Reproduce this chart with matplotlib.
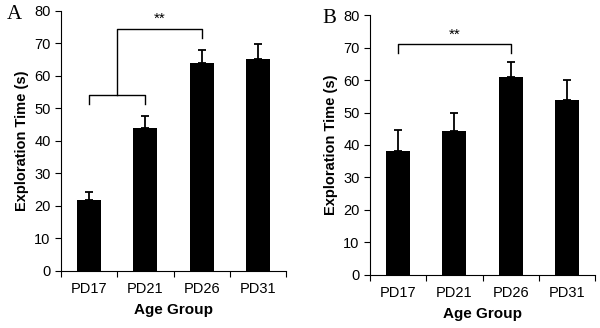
import numpy as np
import matplotlib.pyplot as plt

plt.rcParams['font.family'] = ['Liberation Sans', 'DejaVu Sans']

groups = ['PD17', 'PD21', 'PD26', 'PD31']
time_a = [21.8, 44.0, 64.0, 65.2]
err_a = [2.5, 3.7, 4.0, 4.6]
time_b = [38.2, 44.3, 61.0, 53.8]
err_b = [6.4, 5.7, 4.5, 6.2]

fig = plt.figure(figsize=(6.0, 3.28), dpi=100)
ax_a = fig.add_axes([0.1017, 0.174, 0.375, 0.793])
ax_b = fig.add_axes([0.6167, 0.162, 0.375, 0.792])


def draw_panel(ax, vals, errs):
    pos = np.arange(len(groups)) + 0.5
    ax.bar(pos, vals, width=0.43, color='black')
    ax.errorbar(pos, vals, yerr=[np.zeros(len(vals)), errs], fmt='none',
                ecolor='black', elinewidth=1.3, capsize=3, capthick=1.3)
    ax.set_xlim(0, len(groups))
    ax.set_ylim(0, 80)
    ax.set_yticks(range(0, 81, 10))
    ax.set_xticks(np.arange(len(groups) + 1))
    ax.set_xticklabels([])
    ax.set_xticks(pos, minor=True)
    ax.set_xticklabels(groups, minor=True)
    ax.tick_params(axis='x', which='minor', length=0, pad=8, labelsize=10.5)
    ax.tick_params(axis='x', which='major', length=4, direction='out')
    ax.tick_params(axis='y', length=4, direction='out', labelsize=10.5)
    for s in ['top', 'right']:
        ax.spines[s].set_visible(False)
    ax.set_ylabel('Exploration Time (s)', fontweight='bold', fontsize=10.5)
    ax.set_xlabel('Age Group', fontweight='bold', fontsize=11, labelpad=5)
    return pos


pa = draw_panel(ax_a, time_a, err_a)
# bracket A: PD17/PD21 group vs PD26
lw = 1.0
ax_a.plot([pa[0], pa[0], pa[1], pa[1]], [51.4, 54.2, 54.2, 51.4], color='black', lw=lw)
mid = (pa[0] + pa[1]) / 2
ax_a.plot([mid, mid, pa[2], pa[2]], [54.2, 74.5, 74.5, 71.6], color='black', lw=lw)
ax_a.text((mid + pa[2]) / 2, 75.3, '**', ha='center', va='bottom', fontsize=11)

pb = draw_panel(ax_b, time_b, err_b)
ax_b.plot([pb[0], pb[0], pb[2], pb[2]], [68.3, 71.0, 71.0, 68.3], color='black', lw=lw)
ax_b.text((pb[0] + pb[2]) / 2, 71.8, '**', ha='center', va='bottom', fontsize=11)

fig.text(0.012, 0.955, 'A', family=['Liberation Serif', 'DejaVu Serif'], fontsize=15, va='center')
fig.text(0.538, 0.945, 'B', family=['Liberation Serif', 'DejaVu Serif'], fontsize=15, va='center')

fig.savefig('out.png', dpi=100)
